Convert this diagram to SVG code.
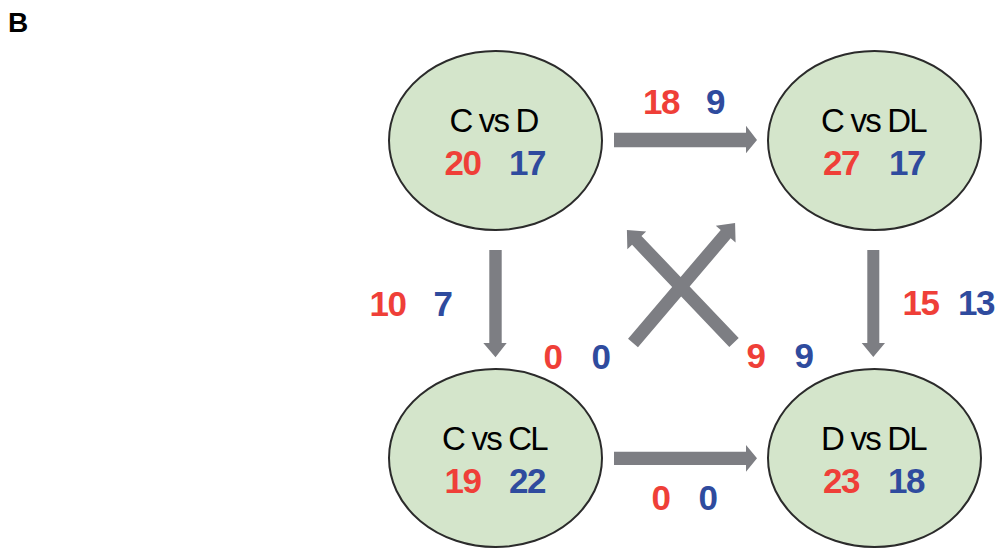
<svg xmlns="http://www.w3.org/2000/svg" width="995" height="549" viewBox="0 0 995 549">
<style>
.node{fill:#d4e5cb;stroke:#2b2b2b;stroke-width:2}
.arr{fill:#7d7e83}
.title{font-family:"Liberation Sans",Arial,sans-serif;font-size:33px;letter-spacing:-1.8px;fill:#000;text-anchor:middle}
.num{font-family:"Liberation Sans",Arial,sans-serif;font-weight:bold;font-size:35px;letter-spacing:-1.5px;text-anchor:middle}
.r{fill:#ef3f38}
.b{fill:#2f4b9e}
</style>
<rect width="995" height="549" fill="#fff"/>
<text x="8" y="31.5" font-family="'Liberation Sans',Arial,sans-serif" font-weight="bold" font-size="28" fill="#000">B</text>

<g id="connectors">
  <polygon class="arr" points="614,132.7 746,132.7 746,125.7 757,140 746,153.3 746,147.3 614,147.3"/>
  <polygon class="arr" points="614,451.7 746,451.7 746,445 757,458.3 746,471.7 746,465 614,465"/>
  <polygon class="arr" points="489.3,250 501.7,250 501.7,343 506.7,343 495.5,357.3 483.3,343 489.3,343"/>
  <polygon class="arr" points="867.3,250 879.3,250 879.3,343 885,343 873.3,357 861.7,343 867.3,343"/>
  <polygon class="arr" transform="translate(633,343) rotate(-49.6)" points="0,-6.5 143,-6.5 143,-13 157.5,0 143,13 143,6.5 0,6.5"/>
  <polygon class="arr" transform="translate(734,342.5) rotate(-133.6)" points="0,-6.5 141,-6.5 141,-13 155.3,0 141,13 141,6.5 0,6.5"/>
  <g id="edge-labels">
    <text class="num r" x="661" y="113.5">18</text>
    <text class="num b" x="715" y="113.5">9</text>
    <text class="num r" x="387.5" y="316">10</text>
    <text class="num b" x="442.5" y="316">7</text>
    <text class="num r" x="552.5" y="369">0</text>
    <text class="num b" x="600.5" y="369">0</text>
    <text class="num r" x="755.5" y="368">9</text>
    <text class="num b" x="803.5" y="368">9</text>
    <text class="num r" x="920.5" y="315">15</text>
    <text class="num b" x="976" y="315">13</text>
    <text class="num r" x="660.5" y="510">0</text>
    <text class="num b" x="707.5" y="510">0</text>
  </g>
</g>

<g id="node-CvsD">
  <ellipse class="node" cx="495.5" cy="140.5" rx="106.5" ry="89.5"/>
  <text class="title" x="493.5" y="131.5">C vs D</text>
  <text class="num r" x="462.5" y="175">20</text>
  <text class="num b" x="527" y="175">17</text>
</g>
<g id="node-CvsDL">
  <ellipse class="node" cx="874.5" cy="140.5" rx="106.5" ry="89.5"/>
  <text class="title" x="873.5" y="131.5">C vs DL</text>
  <text class="num r" x="841" y="175">27</text>
  <text class="num b" x="907" y="175">17</text>
</g>
<g id="node-CvsCL">
  <ellipse class="node" cx="495.5" cy="458" rx="106.5" ry="89"/>
  <text class="title" x="494.5" y="449.5">C vs CL</text>
  <text class="num r" x="462.5" y="493">19</text>
  <text class="num b" x="527" y="493">22</text>
</g>
<g id="node-DvsDL">
  <ellipse class="node" cx="874.5" cy="458" rx="106.5" ry="89"/>
  <text class="title" x="873.5" y="449.5">D vs DL</text>
  <text class="num r" x="841" y="493">23</text>
  <text class="num b" x="906" y="493">18</text>
</g>
</svg>
